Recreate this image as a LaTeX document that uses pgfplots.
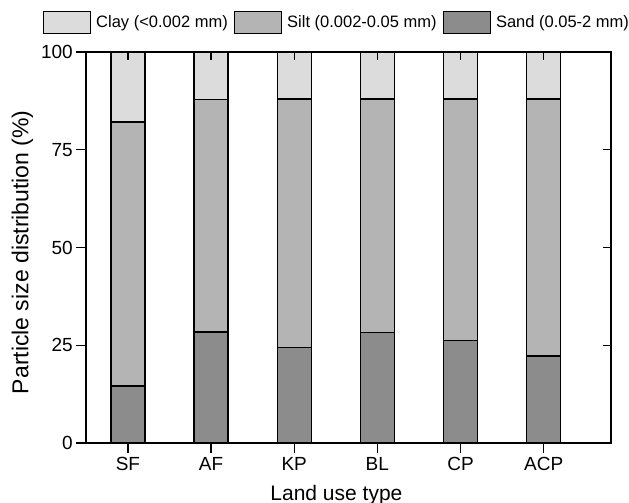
\documentclass[border=0pt]{standalone}
\usepackage{fontspec}
\setmainfont{Liberation Sans}
\usepackage{pgfplots}
\pgfplotsset{compat=1.18}

\definecolor{clay}{HTML}{DCDCDC}
\definecolor{silt}{HTML}{B4B4B4}
\definecolor{sand}{HTML}{8C8C8C}

\begin{document}
\begin{tikzpicture}
\path[use as bounding box] (-86bp,-60bp) rectangle (543bp,443bp);
\begin{axis}[
  scale only axis, width=525bp, height=391bp,
  at={(0,0)}, anchor=south west,
  ybar stacked, bar width=34bp,
  xmin=-0.504, xmax=5.81, ymin=0, ymax=100,
  xtick={0,...,5}, xticklabels={SF,AF,KP,BL,CP,ACP},
  ytick={0,25,50,75,100},
  xtick pos=bottom, ytick pos=left,
  tick align=outside, major tick length=10bp,
  tick style={line width=1.3bp, black},
  axis line style={line width=1.3bp},
  /pgf/number format/assume math mode=true,
  tick label style={font=\fontsize{19bp}{22bp}\selectfont},
  yticklabel style={inner sep=3bp},
  xticklabel style={inner sep=4bp},
  xlabel={Land use type}, ylabel={Particle size distribution (\%)},
  every axis x label/.style={at={(axis description cs:0.477,-0.1458)},anchor=base,font=\fontsize{21bp}{25bp}\selectfont},
  every axis y label/.style={at={(axis description cs:-0.121,0.488)},rotate=90,anchor=center,font=\fontsize{23bp}{27bp}\selectfont},
  legend columns=3, reverse legend,
  legend style={draw=none, fill=none, at={(axis description cs:0.476,1.075)}, anchor=center,
    font=\fontsize{16.5bp}{19bp}\selectfont,
    nodes={inner sep=0pt},
    /tikz/every odd column/.append style={column sep=5bp},
    /tikz/every even column/.append style={column sep=6bp}},
  legend image code/.code={\draw[#1,line width=1.4bp] (0bp,-11bp) rectangle (47bp,11bp);},
]
\addplot[fill=sand, draw=black, line width=1.4bp] coordinates {(0,14.6) (1,28.4) (2,24.4) (3,28.2) (4,26.2) (5,22.3)};
\addlegendentry{Sand (0.05-2 mm)}
\addplot[fill=silt, draw=black, line width=1.4bp] coordinates {(0,67.5) (1,59.5) (2,63.6) (3,59.8) (4,61.8) (5,65.7)};
\addlegendentry{Silt (0.002-0.05 mm)}
\addplot[fill=clay, draw=black, line width=1.4bp] coordinates {(0,17.9) (1,12.1) (2,12.0) (3,12.0) (4,12.0) (5,12.0)};
\addlegendentry{Clay (<0.002 mm)}
\end{axis}
\begin{axis}[
  scale only axis, width=525bp, height=391bp,
  at={(0,0)}, anchor=south west,
  xmin=-0.504, xmax=5.81, ymin=0, ymax=100,
  xtick={0,...,5}, ytick={0,25,50,75,100},
  xticklabels={}, yticklabels={},
  xtick pos=top, ytick pos=right,
  tick align=inside, major tick length=8bp,
  tick style={line width=1.3bp, black},
  axis line style={line width=1.3bp},
]
\end{axis}
\end{tikzpicture}
\end{document}
